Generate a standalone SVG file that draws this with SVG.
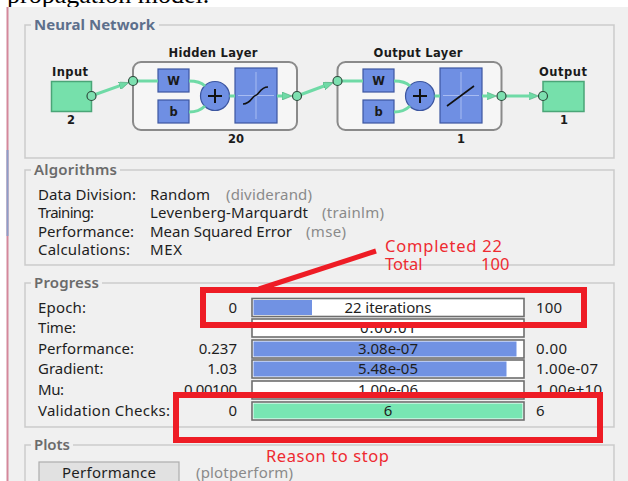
<svg xmlns="http://www.w3.org/2000/svg" width="628" height="481" viewBox="0 0 628 481">
<defs>
<style>
.ui{font-family:"Noto Sans","Open Sans",sans-serif;font-size:15px;fill:#1e1e1e}
.gr{fill:#8a8a8a}
.ttl{font-family:"Noto Sans","Open Sans",sans-serif;font-size:15px;font-weight:600;fill:#6b6b6b}
.nn{font-family:"DejaVu Sans","Noto Sans",sans-serif;font-size:11.5px;font-weight:bold;fill:#1a1a1a}
.red{font-family:"Noto Sans","Open Sans",sans-serif;font-size:16.5px;fill:#ee2a30}
.panel{fill:none;stroke:#cbcbcb;stroke-width:1.5}
.bar{fill:#ffffff;stroke:#6e6e6e;stroke-width:1.6}
.blue{fill:#7192e3}
.wire{fill:none;stroke:#6fdaa6;stroke-width:3}
.dot{fill:#7de0b0;stroke:#2e4a3c;stroke-width:1.2}
.bx{fill:#6f8fe3;stroke:#3c56a0;stroke-width:1.2}
.lay{fill:#f6f6f6;stroke:#8a8a8a;stroke-width:2}
.sq{fill:#76e0ab;stroke:#4aa577;stroke-width:1.5}
.rbox{fill:none;stroke:#ee1c25;stroke-width:6}
.cross{stroke:#a8bcf2;stroke-width:1;fill:none}
</style>
<marker id="ah" markerUnits="userSpaceOnUse" markerWidth="10" markerHeight="8" refX="3" refY="4" orient="auto">
<path d="M0,0 L10,4 L0,8 z" fill="#6fdaa6" stroke="#4aa877" stroke-width="0.6"/>
</marker>
</defs>

<rect x="0" y="0" width="628" height="481" fill="#ffffff"/>
<text x="7" y="3" font-family="Liberation Serif, serif" font-size="26" fill="#000">propagation model.</text>
<rect x="8" y="7" width="620" height="474" fill="#f0f0f0"/>
<line x1="7.5" y1="7" x2="7.5" y2="481" stroke="#d4889b" stroke-width="2"/>
<line x1="7.5" y1="150" x2="7.5" y2="236" stroke="#8c9ec8" stroke-width="2"/>

<!-- Panels -->
<g id="panel-nn">
<rect class="panel" x="25" y="25" width="589" height="133"/>
<rect x="31" y="18" width="128" height="14" fill="#f0f0f0"/>
<text x="34" y="30" font-family="Noto Sans, sans-serif" font-size="15" font-weight="bold" fill="#5d6f8c" textLength="121">Neural Network</text>
</g>
<g id="panel-alg">
<rect class="panel" x="25" y="170" width="589" height="95"/>
<rect x="31" y="163" width="89" height="14" fill="#f0f0f0"/>
<text class="ttl" x="34" y="175" textLength="83">Algorithms</text>
<text class="ui" x="38" y="200" textLength="98">Data Division:</text>
<text class="ui" x="150" y="200" textLength="60">Random</text>
<text class="ui gr" x="226" y="200" textLength="86">(dividerand)</text>
<text class="ui" x="38" y="218" textLength="56">Training:</text>
<text class="ui" x="150" y="218" textLength="158">Levenberg-Marquardt</text>
<text class="ui gr" x="322" y="218" textLength="62">(trainlm)</text>
<text class="ui" x="38" y="237" textLength="96">Performance:</text>
<text class="ui" x="150" y="237" textLength="142">Mean Squared Error</text>
<text class="ui gr" x="306" y="237" textLength="40">(mse)</text>
<text class="ui" x="38" y="255" textLength="92">Calculations:</text>
<text class="ui" x="150" y="255" textLength="32">MEX</text>
</g>
<g id="panel-progress">
<rect class="panel" x="25" y="283" width="589" height="144"/>
<rect x="31" y="276" width="71" height="14" fill="#f0f0f0"/>
<text class="ttl" x="34" y="288" textLength="65">Progress</text>
<text class="ui" x="38" y="312.5" textLength="48">Epoch:</text>
<text class="ui" x="38" y="333" textLength="38">Time:</text>
<text class="ui" x="38" y="354" textLength="96">Performance:</text>
<text class="ui" x="38" y="374">Gradient:</text>
<text class="ui" x="38" y="395" textLength="26">Mu:</text>
<text class="ui" x="38" y="416" textLength="132">Validation Checks:</text>

<g text-anchor="end">
<text class="ui" x="237" y="312.5">0</text>
<text class="ui" x="237" y="354">0.237</text>
<text class="ui" x="237" y="374">1.03</text>
<text class="ui" x="237" y="395" textLength="53">0.00100</text>
<text class="ui" x="237" y="416">0</text>
</g>
<text class="ui" x="536" y="312.5" textLength="26">100</text>
<text class="ui" x="536" y="354" textLength="31">0.00</text>
<text class="ui" x="536" y="374" textLength="62">1.00e-07</text>
<text class="ui" x="536" y="395" textLength="66">1.00e+10</text>
<text class="ui" x="536" y="416">6</text>

<rect class="bar" x="252" y="298.5" width="272" height="18"/>
<rect class="blue" x="253.5" y="300" width="58.5" height="15"/>
<rect class="bar" x="252" y="319" width="272" height="18"/>
<rect class="bar" x="252" y="340" width="272" height="18"/>
<rect class="blue" x="253.5" y="341.5" width="263" height="15"/>
<rect class="bar" x="252" y="360" width="272" height="18"/>
<rect class="blue" x="253.5" y="361.5" width="253" height="15"/>
<rect class="bar" x="252" y="381" width="272" height="18"/>
<rect class="bar" x="252" y="402" width="272" height="18"/>
<rect x="253.5" y="403.5" width="269" height="15" fill="#78e6b3"/>
<g text-anchor="middle">
<text class="ui" x="388" y="312.5" textLength="87">22 iterations</text>
<text class="ui" x="388" y="333" textLength="56">0:00:01</text>
<text class="ui" x="388" y="354" textLength="60">3.08e-07</text>
<text class="ui" x="388" y="374" textLength="60">5.48e-05</text>
<text class="ui" x="388" y="395" textLength="60">1.00e-06</text>
<text class="ui" x="388" y="416">6</text>
</g>
</g>
<g id="panel-plots">
<rect class="panel" x="25" y="445" width="589" height="60"/>
<rect x="31" y="438" width="42" height="14" fill="#f0f0f0"/>
<text class="ttl" x="34" y="450" textLength="36">Plots</text>
<rect x="39" y="462" width="140" height="30" fill="#e1e1e1" stroke="#adadad" stroke-width="1.2"/>
<text class="ui" x="109" y="478" text-anchor="middle" textLength="94">Performance</text>
<text class="ui gr" x="196" y="478" textLength="97">(plotperform)</text>
</g>

<!-- Neural network nodes -->
<g id="input">
<text class="nn" x="70" y="76" text-anchor="middle" textLength="36">Input</text>
<rect class="sq" x="51.5" y="81.5" width="40" height="30"/>
<text class="nn" x="71" y="124" text-anchor="middle">2</text>
</g>
<g id="hidden-layer">
<text class="nn" x="213" y="57" text-anchor="middle" textLength="89">Hidden Layer</text>
<rect class="lay" x="133" y="62" width="164" height="68" rx="8"/>
<rect class="bx" x="158" y="69" width="31" height="23"/>
<text class="nn" x="173.5" y="85" text-anchor="middle" fill="#1c2440">W</text>
<rect class="bx" x="158" y="100" width="31" height="23"/>
<text class="nn" x="173.5" y="116" text-anchor="middle" fill="#1c2440">b</text>
<circle class="bx" cx="215" cy="96" r="14.5" stroke="#2e3f70" stroke-width="1.4"/>
<path d="M208,96 H222 M215,89 V103" stroke="#111" stroke-width="2"/>
<rect class="bx" x="235" y="68" width="42" height="55"/>
<path class="cross" d="M238,95.5 H274 M256,72 V119"/>
<path d="M243,104 C251,104 252,96 255.5,95.5 C259,95 260,87 268,87" fill="none" stroke="#111" stroke-width="1.6"/>
<text class="nn" x="236" y="143" text-anchor="middle">20</text>
</g>
<g id="output-layer">
<text class="nn" x="418" y="57" text-anchor="middle" textLength="89">Output Layer</text>
<rect class="lay" x="337.5" y="62" width="164" height="68" rx="8"/>
<rect class="bx" x="363" y="69" width="31" height="23"/>
<text class="nn" x="378.5" y="85" text-anchor="middle" fill="#1c2440">W</text>
<rect class="bx" x="363" y="100" width="31" height="23"/>
<text class="nn" x="378.5" y="116" text-anchor="middle" fill="#1c2440">b</text>
<circle class="bx" cx="420" cy="96" r="14.5" stroke="#2e3f70" stroke-width="1.4"/>
<path d="M413,96 H427 M420,89 V103" stroke="#111" stroke-width="2"/>
<rect class="bx" x="440" y="68" width="42" height="55"/>
<path class="cross" d="M443,95.5 H479 M461,72 V119"/>
<path d="M447,106 L474,86" fill="none" stroke="#111" stroke-width="1.6"/>
<text class="nn" x="461" y="143" text-anchor="middle">1</text>
</g>
<g id="output">
<text class="nn" x="563" y="76" text-anchor="middle" textLength="48">Output</text>
<rect class="sq" x="543" y="81.5" width="41" height="30"/>
<text class="nn" x="564" y="124" text-anchor="middle">1</text>
</g>

<!-- Connectors -->
<g id="connectors">
<line class="wire" x1="91" y1="96" x2="122.2" y2="84.9" marker-end="url(#ah)"/>
<line class="wire" x1="133" y1="81" x2="158" y2="81"/>
<path class="wire" d="M189,81 C197,81 201,82 205,86"/>
<path class="wire" d="M189,112 C197,112 201,110 205,106"/>
<line class="wire" x1="229.5" y1="96" x2="235" y2="96"/>
<line class="wire" x1="277" y1="96" x2="285" y2="96" marker-end="url(#ah)"/>
<line class="wire" x1="297" y1="96" x2="326.7" y2="85" marker-end="url(#ah)"/>
<line class="wire" x1="337.5" y1="81" x2="363" y2="81"/>
<path class="wire" d="M394,81 C402,81 406,82 410,86"/>
<path class="wire" d="M394,112 C402,112 406,110 410,106"/>
<line class="wire" x1="434.5" y1="96" x2="440" y2="96"/>
<line class="wire" x1="482" y1="96" x2="489.5" y2="96" marker-end="url(#ah)"/>
<line class="wire" x1="501.5" y1="96" x2="531.5" y2="96" marker-end="url(#ah)"/>
<circle class="dot" cx="91.5" cy="96" r="4.5"/>
<circle class="dot" cx="133" cy="81" r="4.5"/>
<circle class="dot" cx="297" cy="96" r="4.5"/>
<circle class="dot" cx="337.5" cy="81" r="4.5"/>
<circle class="dot" cx="501.5" cy="96" r="4.5"/>
<circle class="dot" cx="543" cy="96" r="4.5"/>
</g>

<!-- Annotations -->
<g id="annotations">
<line x1="376" y1="251" x2="259" y2="289" stroke="#ee1c25" stroke-width="5"/>
<rect class="rbox" x="203" y="290" width="381" height="35"/>
<rect class="rbox" x="176" y="395" width="424" height="45"/>
<text class="red" x="385" y="252" textLength="117">Completed 22</text>
<text class="red" x="385" y="269.5">Total</text>
<text class="red" x="481" y="269.5">100</text>
<text class="red" x="266" y="462" font-size="17" textLength="123">Reason to stop</text>
</g>
</svg>
